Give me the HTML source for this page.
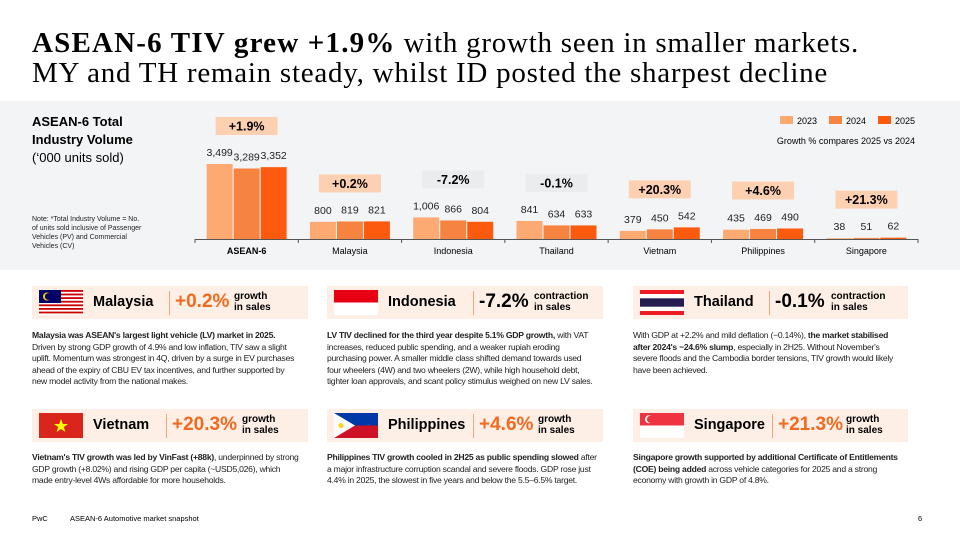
<!DOCTYPE html>
<html><head><meta charset="utf-8">
<style>
*{margin:0;padding:0;box-sizing:border-box}
body{width:960px;height:540px;background:#fff;font-family:"Liberation Sans",Arial,sans-serif;color:#000;position:relative;overflow:hidden}
.title{position:absolute;left:32px;top:28px;font-family:"Liberation Serif",serif;font-size:29px;line-height:30px;letter-spacing:0.75px;color:#000;white-space:nowrap}
.title b{letter-spacing:1.2px}
.panel{position:absolute;left:0;top:101px;width:960px;height:169px;background:#f3f4f6}
.card{position:absolute;height:33px;background:#fdeee6}
.flag{position:absolute;left:7px;top:4px;width:44px;height:25px;overflow:hidden}
.cname{position:absolute;left:61px;top:8px;font-size:14.5px;font-weight:bold}
.div{position:absolute;top:5px;width:1px;height:24px;background:#f4a67a}
.pct{position:absolute;top:5px;font-size:19px;font-weight:bold;color:#f26a1e}
.pct.neg{color:#000}
.gl{position:absolute;top:5px;font-size:10px;font-weight:bold;line-height:11px}
.body{position:absolute;font-size:8.6px;line-height:11.6px;letter-spacing:-0.25px;color:#222}
.foot{position:absolute;top:514px;font-size:7.5px}
</style></head><body>
<div class="title"><b>ASEAN-6 TIV grew +1.9%</b> with growth seen in smaller markets.<br>MY and TH remain steady, whilst ID posted the sharpest decline</div>
<div class="panel"></div>
<svg id="chart" width="960" height="540" style="position:absolute;left:0;top:0">
<text x="32" y="126" font-size="13" font-weight="bold">ASEAN-6 Total</text>
<text x="32" y="144" font-size="13" font-weight="bold">Industry Volume</text>
<text x="32" y="162" font-size="13">(‘000 units sold)</text>
<g font-size="7" fill="#222">
<text x="32" y="221">Note: *Total Industry Volume = No.</text>
<text x="32" y="230">of units sold inclusive of Passenger</text>
<text x="32" y="239">Vehicles (PV) and Commercial</text>
<text x="32" y="248">Vehicles (CV)</text></g>
<text x="915" y="144" font-size="9" text-anchor="end">Growth % compares 2025 vs 2024</text>
</svg>

<div class="card" style="left:32px;top:286px;width:276px">
<svg class="flag" viewBox="0 0 44 25"><rect width="44" height="25" fill="#fff"/><g fill="#cc0001"><rect y="0" width="44" height="1.8"/><rect y="3.6" width="44" height="1.8"/><rect y="7.2" width="44" height="1.8"/><rect y="10.8" width="44" height="1.8"/><rect y="14.4" width="44" height="1.8"/><rect y="18" width="44" height="1.8"/><rect y="21.6" width="44" height="1.8"/></g><rect width="22" height="13" fill="#010066"/><circle cx="8" cy="6.5" r="4" fill="#fc0"/><circle cx="9.3" cy="6.5" r="3.4" fill="#010066"/></svg>
<div class="cname">Malaysia</div><div class="div" style="left:137px"></div>
<div class="pct" style="left:143px">+0.2%</div><div class="gl" style="left:202px">growth<br>in sales</div></div>
<div class="body" style="left:32px;top:330px;width:265px"><b>Malaysia was ASEAN's largest light vehicle (LV) market in 2025.</b> Driven by strong GDP growth of 4.9% and low inflation, TIV saw a slight uplift. Momentum was strongest in 4Q, driven by a surge in EV purchases ahead of the expiry of CBU EV tax incentives, and further supported by new model activity from the national makes.</div>

<div class="card" style="left:327px;top:286px;width:276px">
<svg class="flag" viewBox="0 0 44 25"><rect width="44" height="12.5" fill="#e70011"/><rect y="12.5" width="44" height="12.5" fill="#fff"/></svg>
<div class="cname">Indonesia</div><div class="div" style="left:146px"></div>
<div class="pct neg" style="left:152px">-7.2%</div><div class="gl" style="left:207px">contraction<br>in sales</div></div>
<div class="body" style="left:327px;top:330px;width:270px"><b>LV TIV declined for the third year despite 5.1% GDP growth,</b> with VAT increases, reduced public spending, and a weaker rupiah eroding purchasing power. A smaller middle class shifted demand towards used four wheelers (4W) and two wheelers (2W), while high household debt, tighter loan approvals, and scant policy stimulus weighed on new LV sales.</div>

<div class="card" style="left:633px;top:286px;width:275px">
<svg class="flag" viewBox="0 0 44 25"><rect width="44" height="25" fill="#ed1c24"/><rect y="4" width="44" height="17" fill="#fff"/><rect y="8.3" width="44" height="8.4" fill="#241d4f"/></svg>
<div class="cname">Thailand</div><div class="div" style="left:136px"></div>
<div class="pct neg" style="left:142px">-0.1%</div><div class="gl" style="left:198px">contraction<br>in sales</div></div>
<div class="body" style="left:633px;top:330px;width:270px">With GDP at +2.2% and mild deflation (−0.14%), <b>the market stabilised after 2024's −24.6% slump</b>, especially in 2H25. Without November's severe floods and the Cambodia border tensions, TIV growth would likely have been achieved.</div>

<div class="card" style="left:32px;top:409px;width:276px">
<svg class="flag" viewBox="0 0 44 25"><rect width="44" height="25" fill="#da251d"/><polygon points="22,6 23.8,11 29,11 24.8,14 26.4,19 22,16 17.6,19 19.2,14 15,11 20.2,11" fill="#ff0"/></svg>
<div class="cname">Vietnam</div><div class="div" style="left:134px"></div>
<div class="pct" style="left:140px">+20.3%</div><div class="gl" style="left:210px">growth<br>in sales</div></div>
<div class="body" style="left:32px;top:452px;width:270px"><b>Vietnam's TIV growth was led by VinFast (+88k)</b>, underpinned by strong GDP growth (+8.02%) and rising GDP per capita (~USD5,026), which made entry-level 4Ws affordable for more households.</div>

<div class="card" style="left:327px;top:409px;width:276px">
<svg class="flag" viewBox="0 0 44 25"><rect width="44" height="12.5" fill="#0038a8"/><rect y="12.5" width="44" height="12.5" fill="#ce1126"/><polygon points="0,0 21,12.5 0,25" fill="#fff"/><circle cx="7" cy="12.5" r="2.5" fill="#fcd116"/></svg>
<div class="cname">Philippines</div><div class="div" style="left:146px"></div>
<div class="pct" style="left:152px">+4.6%</div><div class="gl" style="left:211px">growth<br>in sales</div></div>
<div class="body" style="left:327px;top:452px;width:275px"><b>Philippines TIV growth cooled in 2H25 as public spending slowed</b> after a major infrastructure corruption scandal and severe floods. GDP rose just 4.4% in 2025, the slowest in five years and below the 5.5–6.5% target.</div>

<div class="card" style="left:633px;top:409px;width:275px">
<svg class="flag" viewBox="0 0 44 25"><rect width="44" height="12.5" fill="#ef3340"/><rect y="12.5" width="44" height="12.5" fill="#fff"/><circle cx="9" cy="6.3" r="4" fill="#fff"/><circle cx="10.5" cy="6.3" r="3.6" fill="#ef3340"/></svg>
<div class="cname">Singapore</div><div class="div" style="left:139px"></div>
<div class="pct" style="left:145px">+21.3%</div><div class="gl" style="left:213px">growth<br>in sales</div></div>
<div class="body" style="left:633px;top:452px;width:270px"><b>Singapore growth supported by additional Certificate of Entitlements (COE) being added</b> across vehicle categories for 2025 and a strong economy with growth in GDP of 4.8%.</div>

<div class="foot" style="left:32px">PwC</div>
<div class="foot" style="left:70px">ASEAN-6 Automotive market snapshot</div>
<div class="foot" style="left:918px">6</div>

<script>
const categories=["ASEAN-6","Malaysia","Indonesia","Thailand","Vietnam","Philippines","Singapore"];
const seriesNames=["2023","2024","2025"];
const v2023=[3499,800,1006,841,379,435,38];
const v2024=[3289,819,866,634,450,469,51];
const v2025=[3352,821,804,633,542,490,62];
const growthLabels=["+1.9%","+0.2%","-7.2%","-0.1%","+20.3%","+4.6%","+21.3%"];
const colors=["#fdaa72","#f78340","#fc5a0f"];
const svg=document.getElementById('chart');const NS="http://www.w3.org/2000/svg";
const x0=195,x1=918,base=239,scale=75/3499;
const step=(x1-x0)/categories.length;
const xc=i=>x0+step*(i+0.5);
const yv=v=>base-v*scale;
function mk(t,a){const e=document.createElementNS(NS,t);for(const k in a)e.setAttribute(k,a[k]);svg.appendChild(e);return e;}
const series=[v2023,v2024,v2025];const bw=26;
categories.forEach((c,i)=>{
  let minTop=base;
  series.forEach((s,j)=>{
    const bx=xc(i)+(j-1)*(bw+1)-bw/2, top=yv(s[i]);minTop=Math.min(minTop,top);
    const r=mk('rect',{x:bx,y:top,width:bw,height:base-top,fill:colors[j]});
    
    
    const t=mk('text',{x:bx+bw/2,y:top-8,'font-size':10.5,'text-anchor':'middle',fill:'#222'});
    t.textContent=s[i].toLocaleString('en-US');
    
    
  });
  const neg=growthLabels[i].startsWith('-');
  const cy=minTop-38;
  const b=mk('rect',{x:xc(i)-31,y:cy-9,width:62,height:18,fill:neg?'#ebecee':'#fdd0b2'});
  
  
  const g=mk('text',{x:xc(i),y:cy+4.5,'font-size':12.5,'font-weight':'bold','text-anchor':'middle'});
  g.textContent=growthLabels[i];
  
  
  const l=mk('text',{x:xc(i),y:base+15,'font-size':9,'text-anchor':'middle','font-weight':i==0?'bold':'normal'});
  l.textContent=c;
  
  
});
const ax=mk('line',{x1:x0,y1:base+0.5,x2:x1,y2:base+0.5,stroke:'#555','stroke-width':1});


for(let i=0;i<=categories.length;i++){const tk=mk('line',{x1:x0+step*i,y1:base,x2:x0+step*i,y2:base+4,stroke:'#555'});

}
seriesNames.forEach((n,j)=>{
  const lx=780+j*49;
  const r=mk('rect',{x:lx,y:116,width:13,height:8,fill:colors[j]});
  
  
  const t=mk('text',{x:lx+17,y:124,'font-size':9});t.textContent=n;
  
  
});
</script>
</body></html>
